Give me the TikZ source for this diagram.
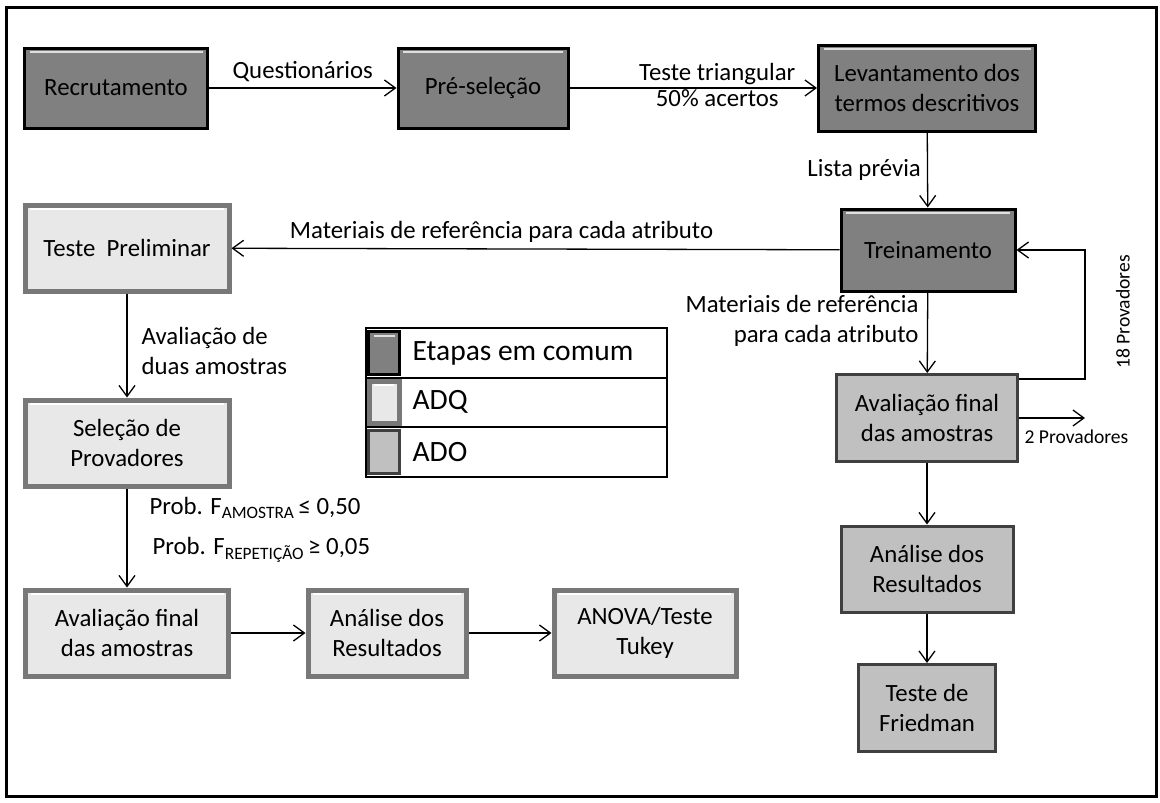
\documentclass[tikz,border=0pt]{standalone}
\usepackage{fontspec}
\setmainfont{Carlito}
\usepackage{tikz}
\usetikzlibrary{arrows.meta}
\definecolor{cinzaEsc}{RGB}{128,128,128}
\definecolor{cinzaCla}{RGB}{232,232,232}
\definecolor{cinzaMed}{RGB}{192,192,192}
\definecolor{bordaQ}{RGB}{120,120,120}
\definecolor{bordaO}{RGB}{64,64,64}
\tikzset{
  texto/.style={font=\fontsize{24.8}{30}\selectfont},
  etapa/.style={rectangle, align=center, inner sep=0pt, texto},
  comum/.style={etapa, draw=black, line width=3, fill=cinzaEsc,
    path picture={\draw[line width=2, white!75!cinzaEsc]
      ([shift={(5pt,-4pt)}]path picture bounding box.north west) --
      ([shift={(-5pt,-4pt)}]path picture bounding box.north east);}},
  adq/.style={etapa, draw=bordaQ, line width=5, fill=cinzaCla,
    path picture={\draw[line width=1.5, white]
      ([shift={(5pt,-4pt)}]path picture bounding box.north west) --
      ([shift={(-5pt,-4pt)}]path picture bounding box.north east);}},
  ado/.style={etapa, draw=bordaO, line width=3, fill=cinzaMed},
  seta/.style={->, line width=1.3, >={Straight Barb[length=11pt,width=16pt]}},
  pequeno/.style={font=\fontsize{19.6}{23}\selectfont},
  legenda/.style={font=\fontsize{29.5}{34}\selectfont}
}
\begin{document}
\begin{tikzpicture}[x=1pt, y=-1pt]
\useasboundingbox (0,0) rectangle (1160,803);
\draw[line width=3] (6,7) rectangle (1156,796);
% etapas em comum
\node[comum, minimum width=183, minimum height=80] (recrut) at (116,88) {Recrutamento};
\node[comum, minimum width=170, minimum height=80] (presel) at (483,88) {Pré-seleção};
\node[comum, minimum width=217, minimum height=86] (levant) at (927,88) {Levantamento dos\\termos descritivos};
\node[comum, minimum width=174, minimum height=82] (trein) at (928,250) {Treinamento};
% ADQ
\node[adq, minimum width=204, minimum height=86] (testepre) at (127,248) {Teste~ Preliminar};
\node[adq, minimum width=204, minimum height=86] (selecao) at (127,443) {Seleção de\\Provadores};
\node[adq, minimum width=203, minimum height=86] (avalq) at (127,633) {Avaliação final\\das amostras};
\node[adq, minimum width=158, minimum height=86] (analq) at (387,633) {Análise dos\\Resultados};
\node[adq, minimum width=182, minimum height=86] (anova) at (645,633) {ANOVA/Teste\\Tukey};
% ADO
\node[ado, minimum width=181, minimum height=87] (avalo) at (927,418) {Avaliação final\\das amostras};
\node[ado, minimum width=172, minimum height=86] (analo) at (927,569) {Análise dos\\Resultados};
\node[ado, minimum width=137, minimum height=87] (fried) at (927,708) {Teste de\\Friedman};
% setas
\draw[seta] (recrut) -- node[above, texto, yshift=2] (lquest) {Questionários} (presel);
\draw[seta] (presel) -- node[above, texto, xshift=24, inner sep=3] (ltri) {Teste triangular} node[below, texto, xshift=24, inner sep=1] (lacert) {50\% acertos} (levant);
\draw[seta] (levant) -- node[left, texto, inner sep=6] (llista) {Lista prévia} (trein);
\draw[seta] (trein) -- node[above, texto, xshift=-34, inner sep=6] (lmat) {Materiais de referência para cada atributo} (testepre);
\draw[seta] (testepre) -- node[right, texto, align=left, inner sep=14, yshift=-5] (lduas) {Avaliação de\\duas amostras} (selecao);
\draw[seta] (selecao) -- (avalq);
\node[texto, anchor=west] (lprobA) at (146,508) {Prob. F\textsubscript{AMOSTRA}\,≤ 0,50};
\node[texto, anchor=west] (lprobR) at (149,550) {Prob. F\textsubscript{REPETIÇÃO}\,≥ 0,05};
\draw[seta] (avalq) -- (analq);
\draw[seta] (analq) -- (anova);
\draw[seta] (trein) -- (avalo);
\node[texto, align=right, anchor=east] (lmat2) at (922,321) {Materiais de referência\\para cada atributo};
\draw[seta] ([yshift=-6]avalo.north east) -- ++(66,0) coordinate (c18) |- (trein.east);
\node[pequeno, rotate=90] (l18) at (1123,312) {18 Provadores};
\draw[seta] (avalo.east) -- ++(66,0) coordinate (c2);
\node[pequeno, anchor=west] (l2) at (1021,437) {2 Provadores};
\draw[seta] (avalo) -- (analo);
\draw[seta] (analo) -- (fried);
% legenda
\draw[line width=1.5] (366,328) rectangle (667,477);
\draw[line width=1.5] (366,378) -- (667,378) (366,427) -- (667,427);
\node[comum, minimum width=31, minimum height=43] (swcomum) at (384,353) {};
\node[adq, minimum width=30, minimum height=42] (swadq) at (384,402) {};
\node[ado, minimum width=31, minimum height=43] (swado) at (384,452) {};
\node[legenda, anchor=west] (lcomum) at (409,353) {Etapas em comum};
\node[legenda, anchor=west] (ladq) at (409,402) {ADQ};
\node[legenda, anchor=west] (lado) at (409,452) {ADO};
\end{tikzpicture}
\end{document}
